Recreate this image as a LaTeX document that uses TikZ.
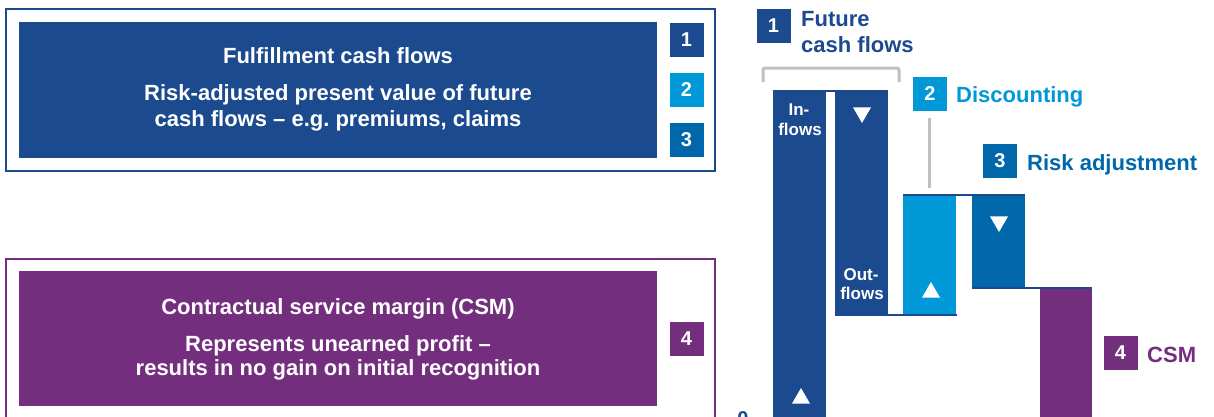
\documentclass[tikz,border=0pt]{standalone}
\usepackage{fontspec}
\setmainfont{Liberation Sans}
\usetikzlibrary{shapes.geometric}
\definecolor{navy}{RGB}{27,74,143}
\definecolor{skyblue}{RGB}{0,152,214}
\definecolor{midblue}{RGB}{0,103,170}
\definecolor{plum}{RGB}{115,46,126}
\definecolor{bracketgray}{RGB}{192,192,192}

\begin{document}
\begin{tikzpicture}[x=1pt,y=-1pt,
  numbox/.style={minimum width=34pt,minimum height=34pt,inner sep=0pt,
    text=white,font=\bfseries\fontsize{20}{20}\selectfont},
  boxtext/.style={text=white,font=\bfseries\fontsize{22}{26}\selectfont,
    inner sep=0pt,anchor=base},
  steptext/.style={font=\bfseries\fontsize{22}{26}\selectfont,
    inner sep=0pt,anchor=base west},
  barnote/.style={text=white,font=\bfseries\fontsize{17}{19}\selectfont,
    inner sep=0pt,anchor=base},
  uptri/.style={regular polygon,regular polygon sides=3,minimum size=20.8pt,
    inner sep=0pt,fill=white},
  downtri/.style={uptri,shape border rotate=180},
  levelline/.style={draw=navy,line width=2pt},
  grayline/.style={draw=bracketgray,line width=3pt}
]
\useasboundingbox (0,0) rectangle (1214,416);

% ---- fulfilment cash flows panel
\draw[navy,line width=2.5pt] (6,9) rectangle (715,171);
\fill[navy] (19,22) rectangle (657,158);
\node[boxtext] (fcf1) at (338,63) {Fulfillment cash flows};
\node[boxtext] (fcf2) at (338,100) {Risk-adjusted present value of future};
\node[boxtext] (fcf3) at (338,126) {cash flows -- e.g.\ premiums, claims};
\node[numbox,fill=navy] (p1) at (686.5,40) {1};
\node[numbox,fill=skyblue] (p2) at (686.5,90) {2};
\node[numbox,fill=midblue] (p3) at (686.5,140) {3};

% ---- contractual service margin panel
\draw[plum,line width=2.5pt] (6,430) -- (6,259) -- (715,259) -- (715,430);
\fill[plum] (19,271) rectangle (657,406);
\node[boxtext] (csm1) at (338,314) {Contractual service margin (CSM)};
\node[boxtext] (csm2) at (338,351) {Represents unearned profit --};
\node[boxtext] (csm3) at (338,375) {results in no gain on initial recognition};
\node[numbox,fill=plum] (p4) at (686.5,338.5) {4};

% ---- waterfall bars
\fill[navy] (773,91) rectangle (826,430);
\fill[navy] (835,91) rectangle (888,315);
\fill[skyblue] (903,195) rectangle (956,315);
\fill[midblue] (972,195) rectangle (1025,288);
\fill[plum] (1040,288) rectangle (1092,430);
\draw[levelline] (773,91) -- (888,91);
\draw[levelline] (835,315) -- (957,315);
\draw[levelline] (903,195) -- (1025,195);
\draw[levelline] (972,288) -- (1092,288);

% bar notes and direction marks
\node[barnote] (in1) at (799,115) {In-};
\node[barnote] (in2) at (800,135) {flows};
\node[barnote] (out1) at (861,280) {Out-};
\node[barnote] (out2) at (862,299) {flows};
\node[uptri] (inup) at (801,398.4) {};
\node[downtri] (outdown) at (862,112.6) {};
\node[uptri] (discup) at (931,292.4) {};
\node[downtri] (riskdown) at (999,221.6) {};

% bracket over the cash flows and discounting lead line
\draw[grayline,rounded corners=2pt] (763,82) -- (763,68) -- (899,68) -- (899,82);
\draw[grayline] (929,118) -- (929,188);

% step labels
\node[numbox,fill=navy] (c1) at (773.5,25.5) {1};
\node[steptext,text=navy] (t1a) at (801,26) {Future};
\node[steptext,text=navy] (t1b) at (801,52) {cash flows};
\node[numbox,fill=skyblue] (c2) at (930,93.5) {2};
\node[steptext,text=skyblue] (t2) at (956,102) {Discounting};
\node[numbox,fill=midblue] (c3) at (1000,161) {3};
\node[steptext,text=midblue] (t3) at (1027,170) {Risk adjustment};
\node[numbox,fill=plum] (c4) at (1120.5,353) {4};
\node[steptext,text=plum] (t4) at (1147,362) {CSM};

% axis zero
\node[text=navy,font=\bfseries\fontsize{20}{20}\selectfont,anchor=north,
  inner sep=0pt] (zero) at (743,411) {0};
\end{tikzpicture}
\end{document}
